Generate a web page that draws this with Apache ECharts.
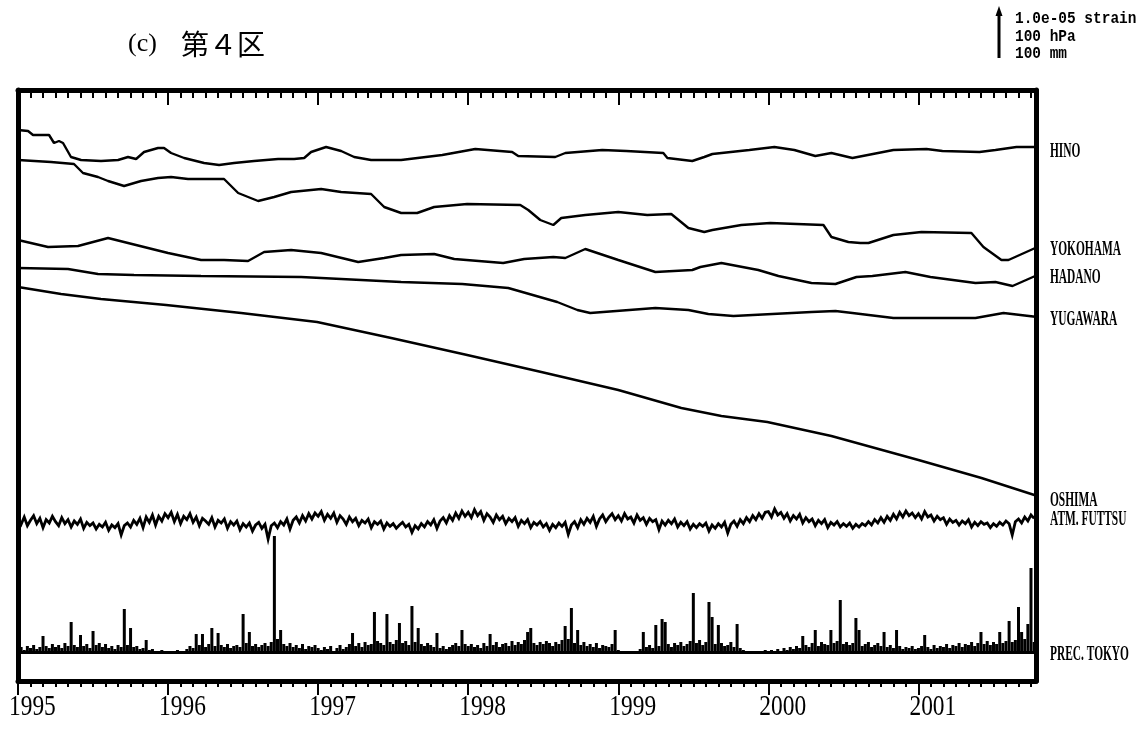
<!DOCTYPE html>
<html><head><meta charset="utf-8">
<script src="https://cdn.jsdelivr.net/npm/echarts@6/dist/echarts.min.js"></script>
<style>html,body{margin:0;padding:0;background:#fff}#c{width:1148px;height:729px}</style>
</head><body><div id="c"></div>
<script>
// ---------- data ----------
const yearTicks = ['1995','1996','1997','1998','1999','2000','2001'];
const titleText = ['(c)', '第４区'];
const scaleText = ['1.0e-05 strain', '100 hPa', '100 mm'];

// strain traces: [decimal year, strain in 1e-7 (offset for display)]
const hino = [[1995.000,1102],[1995.067,1100],[1995.100,1092],[1995.207,1092],[1995.240,1076],[1995.273,1080],[1995.300,1076],[1995.353,1048],[1995.420,1042],[1995.553,1040],[1995.667,1042],[1995.733,1048],[1995.787,1044],[1995.840,1058],[1995.933,1066],[1995.973,1066],[1996.020,1056],[1996.107,1046],[1996.240,1036],[1996.340,1032],[1996.440,1036],[1996.573,1040],[1996.733,1044],[1996.840,1044],[1996.907,1046],[1996.953,1058],[1997.053,1068],[1997.153,1060],[1997.240,1048],[1997.353,1042],[1997.553,1042],[1997.827,1052],[1998.047,1064],[1998.293,1058],[1998.333,1050],[1998.580,1048],[1998.647,1056],[1998.893,1062],[1999.053,1060],[1999.300,1056],[1999.327,1046],[1999.493,1040],[1999.573,1048],[1999.627,1054],[1999.873,1062],[2000.040,1068],[2000.173,1062],[2000.313,1050],[2000.420,1056],[2000.560,1046],[2000.833,1062],[2001.053,1064],[2001.160,1060],[2001.407,1058],[2001.513,1062],[2001.653,1068],[2001.793,1068]];
const yokohama = [[1995.000,1042],[1995.220,1038],[1995.373,1034],[1995.433,1016],[1995.533,1008],[1995.600,1000],[1995.707,990],[1995.820,1000],[1995.933,1006],[1996.020,1008],[1996.133,1004],[1996.373,1004],[1996.467,976],[1996.600,960],[1996.707,968],[1996.820,978],[1997.020,984],[1997.153,978],[1997.353,974],[1997.440,948],[1997.553,936],[1997.660,936],[1997.773,948],[1997.993,954],[1998.347,952],[1998.400,942],[1998.480,922],[1998.567,912],[1998.620,926],[1998.780,932],[1999.000,938],[1999.193,932],[1999.353,934],[1999.467,906],[1999.573,898],[1999.627,902],[1999.820,912],[2000.013,916],[2000.367,912],[2000.420,888],[2000.533,878],[2000.613,876],[2000.667,876],[2000.833,892],[2001.020,898],[2001.353,896],[2001.433,868],[2001.553,842],[2001.600,842],[2001.793,868]];
const hadano = [[1995.000,882],[1995.200,868],[1995.400,870],[1995.600,886],[1995.733,876],[1996.000,856],[1996.220,842],[1996.373,842],[1996.533,840],[1996.640,858],[1996.820,862],[1997.020,856],[1997.267,838],[1997.440,846],[1997.553,852],[1997.773,854],[1997.907,844],[1998.233,836],[1998.373,844],[1998.567,848],[1998.647,846],[1998.780,864],[1999.000,842],[1999.247,818],[1999.493,822],[1999.547,828],[1999.687,836],[1999.933,822],[2000.067,810],[2000.287,796],[2000.447,794],[2000.587,808],[2000.693,810],[2000.913,818],[2001.080,808],[2001.380,796],[2001.513,798],[2001.627,790],[2001.793,812]];
const yugawara = [[1995.000,826],[1995.333,824],[1995.533,814],[1995.773,812],[1996.220,810],[1996.887,808],[1997.553,798],[1997.960,794],[1998.267,786],[1998.593,758],[1998.727,742],[1998.813,736],[1999.247,746],[1999.467,742],[1999.600,734],[1999.767,730],[2000.287,738],[2000.447,740],[2000.560,736],[2000.833,726],[2001.107,726],[2001.380,726],[2001.567,736],[2001.680,732],[2001.793,728]];
const oshima = [[1995.000,788],[1995.287,774],[1995.553,764],[1995.987,752],[1996.487,736],[1996.993,718],[1997.487,686],[1997.993,652],[1998.487,618],[1999.000,582],[1999.420,546],[1999.687,530],[1999.993,518],[2000.420,490],[2001.000,442],[2001.420,406],[2001.793,370]];

// ATM. FUTTSU pressure (hPa), 48 samples per year from 1995.0
const futtsuHPa = [
 1016,1008,1019,1006,1014,1021,1009,1017,1003,1015,1010,1020,
 1012,1006,1018,1009,1015,1004,1013,1008,1016,1002,1011,1006,
 1010,1001,1008,1004,1011,999,1007,1003,1009,992,1006,1010,
 1004,1014,1008,1017,1003,1019,1011,1022,1007,1020,1013,1024,
 1018,1026,1012,1023,1009,1020,1015,1024,1011,1019,1006,1017,
 1013,1008,1018,1004,1014,1010,1016,1002,1012,1007,1013,1000,
 1009,1004,1010,998,1007,1011,1002,1008,986,1006,1010,1003,
 1012,1007,1016,1001,1014,1019,1010,1021,1013,1024,1016,1025,
 1020,1027,1014,1023,1017,1025,1011,1021,1016,1008,1019,1012,
 1017,1006,1014,1010,1016,1003,1012,1008,1013,1001,1010,1005,
 1009,1002,1007,1011,1004,1008,996,1006,1001,1009,1004,1012,
 1007,1015,1002,1013,1018,1010,1021,1014,1025,1017,1028,1020,
 1026,1018,1030,1021,1027,1014,1024,1019,1011,1022,1015,1020,
 1009,1017,1012,1018,1005,1014,1009,1015,1003,1011,1007,1012,
 1004,1009,999,1008,1003,1010,1005,1011,993,1007,1012,1003,
 1015,1008,1017,1011,1020,1005,1016,1022,1012,1019,1024,1015,
 1021,1013,1024,1016,1019,1010,1022,1014,1018,1008,1017,1012,
 1015,1000,1013,1007,1014,1009,1016,1004,1011,1006,1012,1001,
 1008,1003,1009,1005,1010,998,1007,1002,1009,1004,1011,995,
 1008,1013,1005,1015,1009,1018,1012,1021,1015,1024,1017,1026,
 1027,1019,1031,1022,1026,1017,1024,1013,1021,1016,1023,1010,
 1018,1012,1016,1006,1014,1009,1015,1003,1011,1007,1012,1004,
 1009,1005,1010,1002,1008,1004,1009,1006,1012,1007,1015,1010,
 1018,1011,1020,1014,1023,1016,1026,1019,1028,1021,1025,1018,
 1024,1016,1027,1019,1022,1013,1020,1015,1018,1008,1016,1011,
 1014,1007,1013,1009,1015,1004,1011,1006,1012,1008,1010,1003,
 1009,1005,1011,1007,1013,1009,992,1012,1016,1010,1019,1013,
 1022,1017
];

// PREC. TOKYO precipitation (mm), 48 samples per year from 1995.0
const tokyoPrecipMM = [
 6,10,4,12,8,14,6,10,32,12,8,16,
 10,14,8,18,12,60,14,10,34,12,16,8,
 42,14,18,10,16,8,12,6,14,10,86,14,
 48,10,12,6,8,24,4,6,2,0,4,2,
 0,2,0,4,0,2,6,12,8,36,14,36,
 10,16,48,12,38,14,10,16,8,12,14,10,
 76,18,40,12,16,10,14,18,12,20,232,26,
 44,16,12,18,10,14,8,16,6,12,10,14,
 8,4,10,6,12,2,8,14,6,10,16,38,
 12,18,10,20,14,16,80,22,18,14,76,20,
 16,24,58,18,22,14,92,20,48,16,12,18,
 14,10,38,8,12,6,10,14,18,12,44,16,
 12,16,10,14,8,18,12,36,14,20,10,16,
 18,12,22,14,20,16,24,40,48,18,14,20,
 16,22,18,12,20,16,24,52,26,88,18,44,
 14,20,12,16,10,18,8,14,12,10,16,44,
 4,0,2,0,0,2,0,6,40,10,14,8,
 54,12,66,60,16,10,18,14,20,12,16,22,
 118,18,24,14,20,100,70,16,54,18,12,14,
 20,10,56,8,4,2,0,0,2,0,0,4,
 2,4,0,6,2,8,4,10,6,12,8,32,
 14,10,18,44,12,20,16,14,44,18,22,104,
 16,20,14,18,68,44,12,16,20,10,14,18,
 12,40,10,14,8,44,12,6,10,8,12,6,
 8,12,34,10,6,14,8,12,10,16,8,14,
 12,18,10,16,14,20,12,18,40,16,22,14,
 20,16,40,18,22,62,20,24,90,40,26,56,
 168,20
];

const stationNames = ['HINO','YOKOHAMA','HADANO','YUGAWARA','OSHIMA','ATM. FUTTSU','PREC. TOKYO'];

// ---------- chart ----------
const BLACK = '#000';
const XMAX = 81.4;               // months after 1995-01
const toMonth = y => (y - 1995) * 12;
const conv = arr => arr.map(p => [toMonth(p[0]), p[1]]);
const futtsuData = futtsuHPa.map((v, i) => [i / 4, v]);
const precipData = tokyoPrecipMM.map((v, i) => [i / 4, v]);
const majorTicks = yearTicks.map((t, k) => k * 12);
const minorTicks = []; for (let m = 0; m <= 81; m++) minorTicks.push(m);

const chart = echarts.init(document.getElementById('c'));

function xAx(pos, major) {
  return {
    type: 'value', position: pos, min: 0, max: XMAX, interval: major ? 12 : 1,
    axisLine: { show: major, onZero: false, lineStyle: { color: BLACK, width: 5 } },
    axisTick: {
      show: true, inside: pos === 'top',
      length: major ? (pos === 'top' ? 15 : 14) : (pos === 'top' ? 8 : 6),
      customValues: major ? majorTicks : minorTicks,
      lineStyle: { color: BLACK, width: 2 }
    },
    axisLabel: { show: false }, splitLine: { show: false }
  };
}
function strain(name, data) {
  return { name, type: 'line', xAxisIndex: 0, yAxisIndex: 0, data: conv(data), symbol: 'none',
    lineStyle: { color: BLACK, width: 2.4 }, silent: true };
}

chart.setOption({
  animation: false,
  backgroundColor: '#fff',
  grid: { left: 18, right: 112, top: 90, bottom: 48, outerBoundsMode: 'none' },
  xAxis: [xAx('bottom', true), xAx('bottom', false), xAx('top', true), xAx('top', false)],
  yAxis: [
    { type: 'value', position: 'left', min: 0, max: 1182,
      axisLine: { show: true, onZero: false, lineStyle: { color: BLACK, width: 5 } },
      axisTick: { show: false }, axisLabel: { show: false }, splitLine: { show: false } },
    { type: 'value', position: 'right', min: 0, max: 1182,
      axisLine: { show: true, onZero: false, lineStyle: { color: BLACK, width: 5 } },
      axisTick: { show: false }, axisLabel: { show: false }, splitLine: { show: false } },
    { type: 'value', min: 773, max: 1659.5, show: false },
    { type: 'value', min: -58, max: 1124, show: false }
  ],
  series: [
    strain('HINO', hino),
    strain('YOKOHAMA', yokohama),
    strain('HADANO', hadano),
    strain('YUGAWARA', yugawara),
    strain('OSHIMA', oshima),
    { name: 'ATM. FUTTSU', type: 'line', xAxisIndex: 0, yAxisIndex: 2, data: futtsuData, symbol: 'none',
      lineStyle: { color: BLACK, width: 2.8, join: 'miter' }, silent: true },
    { name: 'PREC. TOKYO', type: 'bar', xAxisIndex: 0, yAxisIndex: 3, data: precipData,
      barWidth: 3, itemStyle: { color: BLACK }, silent: true,
      markLine: { silent: true, symbol: 'none', label: { show: false },
        lineStyle: { type: 'solid', color: BLACK, width: 3 }, data: [{ yAxis: 0 }] } }
  ]
});

// ---------- text elements positioned via the chart's scales ----------
const g = [];
function txt(x, y, text, font, scaleX, align) {
  g.push({ type: 'text', x, y, scaleX: scaleX || 1, silent: true,
    style: { text, fill: BLACK, font, align: align || 'left', verticalAlign: 'middle',
             textAlign: align || 'left', textVerticalAlign: 'middle' } });
}
// year labels
yearTicks.forEach((t, k) => {
  const px = chart.convertToPixel({ xAxisIndex: 0 }, k * 12);
  txt(px - 9, 707, t, '30px "Liberation Serif"', 0.78);
});
// station labels at the right edge, next to each trace's last value
const xr = chart.convertToPixel({ xAxisIndex: 0 }, XMAX) + 14;
const lastY = (arr, yi) => chart.convertToPixel({ yAxisIndex: yi }, arr[arr.length - 1][1]);
const lf = 'bold 20px "Liberation Serif"';
txt(xr, lastY(hino, 0) + 5, stationNames[0], lf, 0.57);
txt(xr, lastY(yokohama, 0) + 3, stationNames[1], lf, 0.57);
txt(xr, lastY(hadano, 0) + 3, stationNames[2], lf, 0.57);
txt(xr, lastY(yugawara, 0) + 3, stationNames[3], lf, 0.57);
txt(xr, lastY(oshima, 0) + 5, stationNames[4], lf, 0.57);
txt(xr, chart.convertToPixel({ yAxisIndex: 2 }, 1013) - 1, stationNames[5], lf, 0.57);
txt(xr, chart.convertToPixel({ yAxisIndex: 3 }, 0) + 3, stationNames[6], lf, 0.57);
// title
txt(128, 44, titleText[0], '26px "Liberation Serif"', 1);
txt(181, 44, titleText[1], '28px "Noto Sans CJK JP"', 1);
// scale bar
g.push({ type: 'line', silent: true, shape: { x1: 999, y1: 58, x2: 999, y2: 14 }, style: { stroke: BLACK, lineWidth: 3 } });
g.push({ type: 'polygon', silent: true, shape: { points: [[999, 6], [995.5, 16], [1002.5, 16]] }, style: { fill: BLACK } });
const sf = 'bold 17px "Liberation Mono"';
txt(1015, 19, scaleText[0], sf, 0.85);
txt(1015, 37, scaleText[1], sf, 0.85);
txt(1015, 54, scaleText[2], sf, 0.85);

chart.setOption({ graphic: { elements: g } });
</script>
</body></html>
